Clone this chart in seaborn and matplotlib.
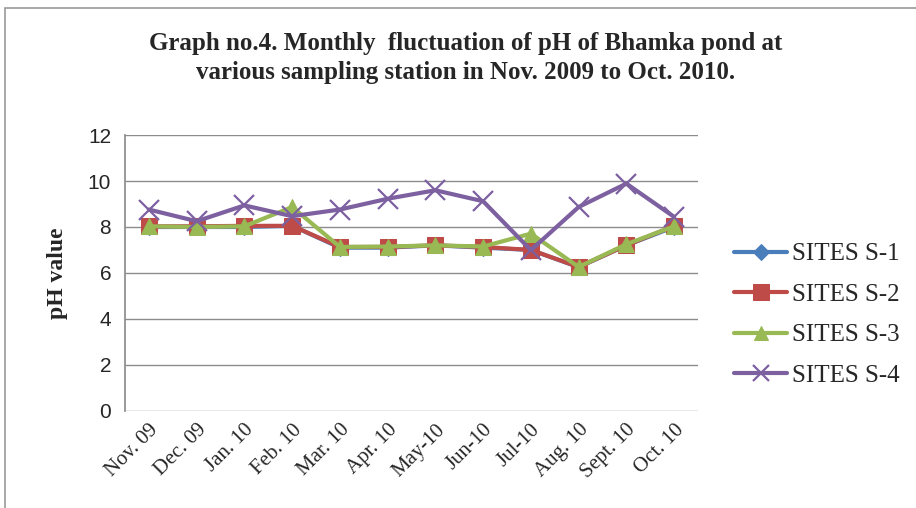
"""Monthly fluctuation of pH at Bhamka pond, recreated with seaborn."""

import matplotlib
matplotlib.use("Agg")
import matplotlib.pyplot as plt
import pandas as pd
import seaborn as sns
from matplotlib.patches import Rectangle

months = ["Nov. 09", "Dec. 09", "Jan. 10", "Feb. 10", "Mar. 10", "Apr. 10",
          "May-10", "Jun-10", "Jul-10", "Aug. 10", "Sept. 10", "Oct. 10"]
site_names = ["SITES S-1", "SITES S-2", "SITES S-3", "SITES S-4"]
s1 = [8.0, 8.0, 8.0, 8.05, 7.1, 7.1, 7.2, 7.1, 7.0, 6.25, 7.2, 8.0]
s2 = [8.03, 8.03, 8.05, 8.05, 7.13, 7.13, 7.2, 7.13, 7.0, 6.26, 7.2, 8.05]
s3 = [8.03, 8.0, 8.03, 8.87, 7.13, 7.15, 7.2, 7.15, 7.71, 6.26, 7.25, 8.03]
s4 = [8.76, 8.25, 8.94, 8.47, 8.76, 9.23, 9.6, 9.12, 6.99, 8.87, 9.89, 8.44]

COLORS = ["#4a7ebb", "#be4b48", "#98b954", "#7d60a0"]
MARKERS = ["D", "s", "^", "x"]
SERIF = ["Liberation Serif", "DejaVu Serif"]
SANS = ["Liberation Sans", "DejaVu Sans"]

sns.set_theme(style="white")
plt.rcParams["font.family"] = SERIF

rows = []
for name, vals in zip(site_names, [s1, s2, s3, s4]):
    for i, v in enumerate(vals):
        rows.append({"idx": i, "month": months[i], "site": name, "ph": v})
df = pd.DataFrame(rows)

fig = plt.figure(figsize=(9.16, 5.08), dpi=100)
fig.patches.append(Rectangle((5 / 916, -0.1), 1.2, (500 / 508) + 0.1, transform=fig.transFigure,
                             fill=False, edgecolor="#9a9a9a", linewidth=1.2))
ax = fig.add_axes([0.1365, 0.1915, 0.6255, 0.5425])

for name, color, marker in zip(site_names, COLORS, MARKERS):
    sub = df[df["site"] == name]
    if marker == "x":
        mk = dict(markersize=14, markeredgewidth=1.6, markeredgecolor=color)
    elif marker == "D":
        mk = dict(markersize=8, markeredgecolor=color)
    else:
        mk = dict(markersize=12, markeredgecolor=color)
    sns.lineplot(data=sub, x="idx", y="ph", color=color, marker=marker,
                 linewidth=3.0, label=name, ax=ax, **mk)

ax.set_xlim(-0.5, 11.5)
ax.set_ylim(0, 12)
ax.set_yticks(range(0, 13, 2))
ax.set_xticks(range(len(months)))
ax.set_xticklabels(months, rotation=45, ha="right", rotation_mode="anchor",
                   fontsize=15, family=SERIF)
for lab in ax.get_yticklabels():
    lab.set_family(SANS)
    lab.set_fontsize(15)
ax.tick_params(axis="y", pad=10, length=0)
ax.tick_params(axis="x", pad=7, length=0)
ax.grid(axis="y", color="#8c8c8c", linewidth=1.0)
ax.set_axisbelow(True)
for side in ["top", "right", "bottom"]:
    ax.spines[side].set_visible(False)
ax.spines["left"].set_color("#8c8c8c")
ax.set_xlabel("")
ax.set_ylabel("pH value", fontsize=17, fontweight="bold", family=SERIF, labelpad=14)

leg = ax.legend(loc="center left", bbox_to_anchor=(0.788, 0.380), bbox_transform=fig.transFigure,
                frameon=False, handlelength=2.1, labelspacing=0.72, borderpad=0.0,
                handletextpad=0.2, prop={"family": SERIF, "size": 18})
for h, size in zip(leg.legend_handles, [8, 11, 10, 11]):
    h.set_markersize(size)

fig.text(0.508, 0.886, "Graph no.4. Monthly  fluctuation of pH of Bhamka pond at\n"
         "various sampling station in Nov. 2009 to Oct. 2010.",
         ha="center", va="center", fontsize=18, fontweight="bold",
         family=SERIF, linespacing=1.3)

fig.savefig("out.png", dpi=100, facecolor="white")
